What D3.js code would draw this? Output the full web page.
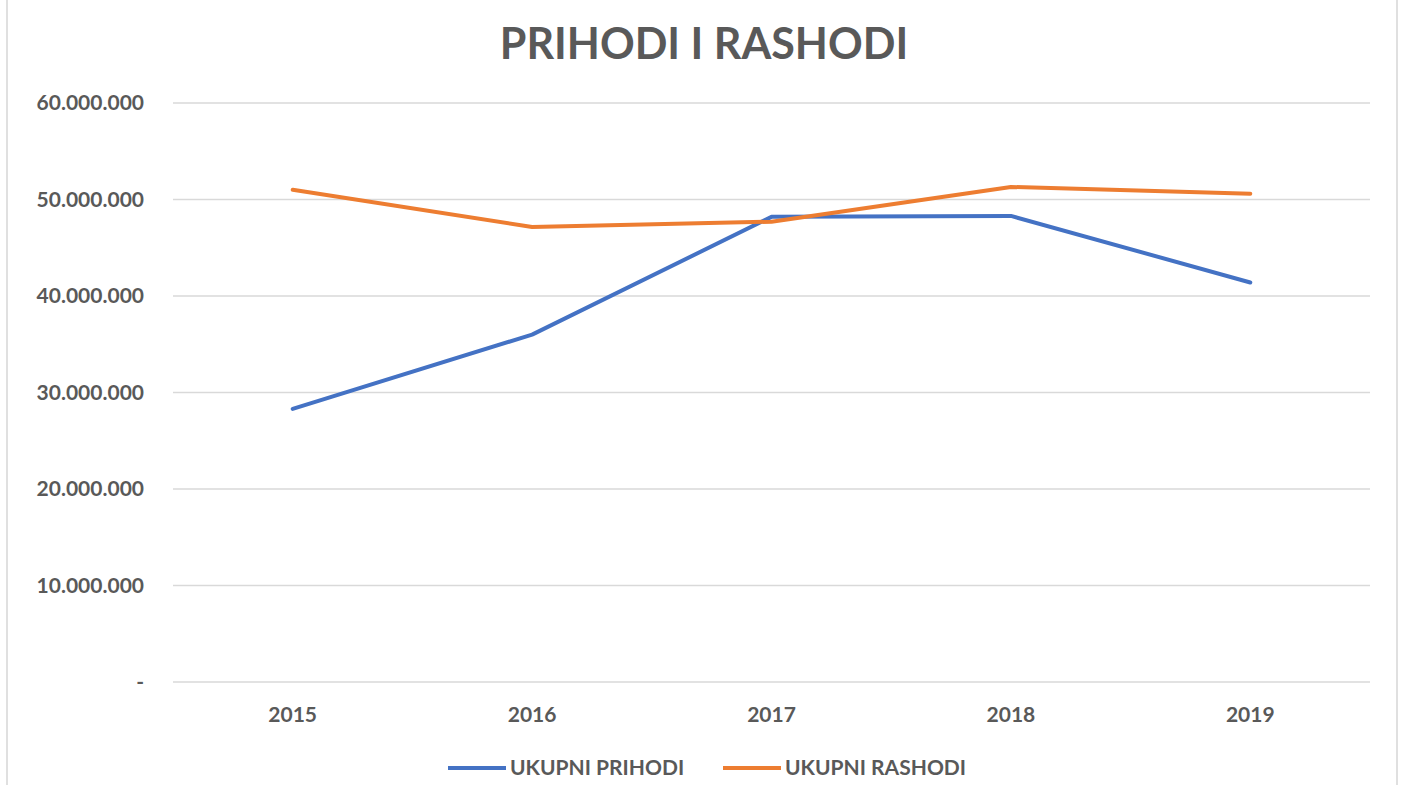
<!DOCTYPE html>
<html><head><meta charset="utf-8">
<script src="https://cdn.jsdelivr.net/npm/d3@7/dist/d3.min.js"></script>
<style>body{margin:0;background:#fff}svg{display:block}</style>
</head><body>
<script>
const categories = ["2015","2016","2017","2018","2019"];
const prihodi = [28300000, 36000000, 48200000, 48300000, 41400000];
const rashodi = [51000000, 47150000, 47700000, 51300000, 50600000];
const yTicks = [0,10000000,20000000,30000000,40000000,50000000,60000000];
const seriesNames = ["UKUPNI PRIHODI","UKUPNI RASHODI"];
const colors = ["#4472C4","#ED7D31"];

const W=1403,H=785;
const svg=d3.select("body").append("svg").attr("width",W).attr("height",H);
svg.append("rect").attr("x",7).attr("y",-2).attr("width",1390).attr("height",H+4)
  .attr("fill","#fff").attr("stroke","#e0e0e0").attr("stroke-width",2);

const pLeft=173,pRight=1370,pTop=103,pBottom=682;
const x=d3.scaleBand().domain(categories).range([pLeft,pRight]).padding(0);
const y=d3.scaleLinear().domain([0,60000000]).range([pBottom,pTop]);
const fmt=v=> v===0 ? "-" : d3.format(",")(v).replace(/,/g,".");

const font="Lato, 'Open Sans', sans-serif";
svg.append("g").selectAll("line").data(yTicks).join("line")
  .attr("x1",pLeft).attr("x2",pRight).attr("y1",d=>y(d)).attr("y2",d=>y(d))
  .attr("stroke","#d9d9d9").attr("stroke-width",1.5);
svg.append("g").selectAll("text").data(yTicks).join("text")
  .attr("x",144).attr("y",d=>y(d)).attr("dy","0.35em").attr("text-anchor","end")
  .attr("font-family",font).attr("font-weight","bold").attr("font-size",21).attr("fill","#595959")
  .text(fmt);
svg.append("g").selectAll("text").data(categories).join("text")
  .attr("x",d=>x(d)+x.bandwidth()/2).attr("y",715).attr("dy","0.35em").attr("text-anchor","middle")
  .attr("font-family",font).attr("font-weight","bold").attr("font-size",21).attr("fill","#595959")
  .text(d=>d);

const line=d3.line().x((d,i)=>x(categories[i])+x.bandwidth()/2).y(d=>y(d));
[prihodi,rashodi].forEach((s,k)=>{
  svg.append("path").datum(s).attr("d",line).attr("fill","none")
    .attr("stroke",colors[k]).attr("stroke-width",4).attr("stroke-linejoin","round").attr("stroke-linecap","round");
});

svg.append("text").attr("x",704).attr("y",44).attr("dy","0.35em").attr("text-anchor","middle")
  .attr("font-family",font).attr("font-weight","bold").attr("font-size",43).attr("fill","#595959")
  .text("PRIHODI I RASHODI");

const legX=[448,723];
seriesNames.forEach((n,k)=>{
  svg.append("line").attr("x1",legX[k]).attr("x2",legX[k]+58).attr("y1",768).attr("y2",768)
    .attr("stroke",colors[k]).attr("stroke-width",4);
  svg.append("text").attr("x",legX[k]+62).attr("y",768).attr("dy","0.35em")
    .attr("font-family",font).attr("font-weight","bold").attr("font-size",21).attr("fill","#595959").text(n);
});
</script>
</body></html>
